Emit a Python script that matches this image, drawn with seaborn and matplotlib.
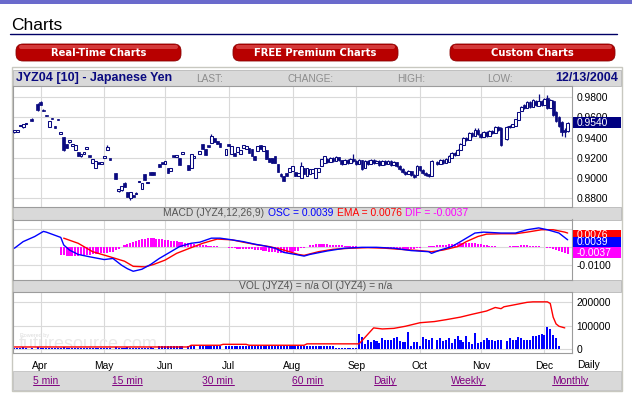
import numpy as np
import pandas as pd
import matplotlib
matplotlib.use("Agg")
import matplotlib.pyplot as plt
import seaborn as sns
from matplotlib.patches import Rectangle, FancyBboxPatch

# ---------------------------------------------------------------- data
sessions = pd.bdate_range("2004-03-19", "2004-12-13")          # trading-day axis
month_labels = ["Apr", "May", "Jun", "Jul", "Aug", "Sep", "Oct", "Nov", "Dec"]

# candle days (index into sessions)
c_day = ([0, 1, 2, 3, 4, 6] + list(range(8, 34)) + list(range(35, 49)) + list(range(50, 59))
         + [60, 61, 62, 64] + list(range(65, 72)) + list(range(73, 145))
         + list(range(146, 169)) + list(range(170, 192)))

c_open = [
    .946, .946, .951, .950, .953, .958, .973, .975, .967, .962,
    .950, .959, .951, .958, .944, .941, .934, .936, .932, .928,
    .926, .922, .924, .929, .922, .915, .910, .915, .914, .920,
    .928, .919,
    .905, .887, .888, .895, .886, .880, .883, .884, .896, .889, .904, .895, .906, .906,
    .914, .915, .914, .910, .907, .922, .921, .920, .924,
    .913, .910, .920, .924,
    .934, .929, .932, .935, .940, .937, .935,
    .923, .934, .924, .925, .926, .924, .930, .929, .930, .929,
    .922, .927, .933, .927, .928, .920, .920, .922, .914, .904,
    .902, .905, .906, .907, .906, .902, .900, .910, .902, .904,
    .905, .900, .906, .912, .915, .919, .916, .920, .917, .921,
    .918, .914, .918, .915, .919, .917, .914, .918, .910, .917,
    .914, .918, .915, .917, .913, .917, .914, .917, .913, .916,
    .912, .909, .906, .904, .907, .903, .903, .912, .908, .905,
    .904, .902,
    .916, .914, .918, .915, .916, .920, .925, .923, .928, .933,
    .940, .938, .945, .942, .948, .944, .941, .946, .942, .947,
    .945, .950, .949,
    .939, .950, .950, .951, .957, .966, .972, .969, .975, .970,
    .976, .971, .976, .972, .979, .969, .976, .965, .960, .955,
    .948, .947]
c_high = [
    .946, .947, .952, .953, .954, .959, .974, .976, .968, .962,
    .956, .959, .951, .958, .946, .941, .934, .938, .933, .933,
    .926, .923, .925, .930, .922, .919, .917, .915, .915, .921,
    .933, .919,
    .905, .889, .892, .896, .886, .886, .883, .886, .897, .895, .904, .896, .906, .906,
    .914, .915, .917, .910, .910, .922, .922, .920, .925,
    .913, .924, .921, .927,
    .934, .929, .932, .944, .940, .937, .935,
    .929, .934, .932, .925, .931, .928, .933, .932, .930, .929,
    .922, .932, .933, .932, .928, .920, .920, .922, .914, .905,
    .902, .905, .910, .912, .906, .905, .916, .910, .910, .909,
    .909, .910, .910, .919, .922, .920, .921, .921, .922, .921,
    .918, .919, .919, .920, .924, .918, .919, .918, .918, .918,
    .919, .919, .918, .918, .918, .918, .918, .918, .917, .916,
    .913, .910, .907, .908, .907, .904, .913, .912, .909, .906,
    .904, .918,
    .917, .919, .919, .920, .923, .926, .926, .929, .935, .941,
    .941, .946, .946, .949, .949, .945, .947, .947, .948, .948,
    .951, .951, .950,
    .951, .952, .953, .958, .965, .971, .973, .976, .976, .978,
    .977, .983, .977, .979, .982, .978, .977, .966, .961, .956,
    .949, .955]
c_low = [
    .945, .946, .951, .949, .953, .956, .966, .972, .966, .961,
    .950, .958, .949, .957, .944, .927, .930, .935, .932, .928,
    .922, .921, .924, .929, .921, .915, .910, .914, .914, .920,
    .928, .918,
    .899, .886, .887, .891, .881, .879, .881, .884, .896, .889, .898, .895, .903, .903,
    .911, .914, .914, .905, .907, .921, .921, .913, .924,
    .908, .910, .920, .924,
    .929, .923, .931, .935, .936, .934, .931,
    .923, .932, .924, .922, .926, .924, .930, .929, .925, .922,
    .918, .927, .929, .927, .919, .916, .915, .915, .906, .901,
    .897, .902, .906, .907, .902, .902, .900, .904, .902, .904,
    .905, .900, .906, .912, .915, .915, .916, .916, .917, .917,
    .913, .914, .914, .915, .916, .913, .914, .908, .910, .913,
    .914, .914, .915, .912, .913, .913, .914, .912, .913, .911,
    .908, .905, .903, .904, .902, .900, .903, .907, .904, .902,
    .901, .902,
    .913, .914, .914, .915, .916, .920, .922, .923, .928, .933,
    .937, .938, .941, .942, .943, .940, .941, .941, .942, .944,
    .945, .947, .932,
    .938, .949, .950, .951, .957, .966, .968, .969, .969, .970,
    .971, .971, .971, .972, .968, .969, .961, .955, .950, .942,
    .941, .946]
c_close = [
    .946, .946, .951, .953, .953, .956, .967, .972, .966, .961,
    .956, .958, .949, .957, .946, .928, .930, .936, .932, .933,
    .922, .922, .924, .929, .921, .919, .917, .914, .915, .920,
    .931, .918,
    .899, .889, .892, .891, .881, .886, .881, .885, .896, .895, .898, .895, .903, .903,
    .911, .914, .917, .905, .910, .921, .922, .913, .924,
    .908, .924, .920, .927,
    .929, .923, .931, .942, .936, .934, .931,
    .929, .932, .932, .922, .931, .928, .933, .932, .925, .922,
    .918, .932, .929, .932, .919, .916, .915, .915, .906, .902,
    .897, .902, .910, .912, .902, .905, .912, .904, .910, .909,
    .909, .910, .910, .919, .922, .916, .920, .917, .921, .918,
    .914, .918, .915, .919, .917, .914, .918, .909, .917, .914,
    .918, .915, .917, .913, .917, .914, .917, .913, .916, .912,
    .909, .906, .904, .907, .903, .901, .912, .908, .905, .903,
    .902, .917,
    .914, .918, .915, .919, .922, .925, .923, .928, .934, .940,
    .938, .945, .942, .948, .944, .941, .946, .942, .947, .945,
    .950, .948, .933,
    .950, .951, .953, .958, .965, .970, .969, .975, .970, .977,
    .972, .976, .972, .978, .969, .977, .962, .956, .951, .946,
    .946, .954]
volume = [
    6000, 5000, 4000, 7000, 5000, 6000, 8000, 6000, 5000, 4000,
    6000, 5000, 4000, 6000, 5000, 7000, 6000, 5000, 4000, 5000,
    6000, 5000, 4000, 5000, 6000, 5000, 4000, 6000, 5000, 5000,
    6000, 4000,
    7000, 6000, 5000, 6000, 7000, 6000, 5000, 4000, 6000, 5000, 6000, 5000, 7000, 6000,
    12000, 13000, 12000, 14000, 13000, 12000, 11000, 12000, 13000,
    14000, 15000, 14000, 13000,
    13000, 14000, 13000, 14000, 13000, 12000, 13000,
    12000, 13000, 12000, 11000, 12000, 13000, 12000, 11000, 12000, 13000,
    12000, 11000, 12000, 13000, 12000, 11000, 12000, 12000, 13000, 12000,
    11000, 12000, 13000, 12000, 11000, 12000, 13000, 12000, 11000, 12000,
    13000, 12000, 11000, 12000, 13000, 12000, 11000, 12000, 6000, 5000,
    6000, 5000, 6000, 5000, 6000, 5000, 64000, 52000, 20000, 38000,
    30000, 38000, 33000, 25000, 45000, 40000, 38000, 40000, 45000, 50000,
    35000, 30000, 30000, 72000, 12000, 28000, 30000, 12000, 50000, 42000,
    40000, 45000,
    40000, 45000, 35000, 40000, 45000, 25000, 42000, 55000, 40000, 30000,
    55000, 30000, 20000, 70000, 25000, 30000, 40000, 45000, 40000, 40000,
    35000, 40000, 40000,
    35000, 45000, 40000, 40000, 50000, 45000, 40000, 40000, 40000, 55000,
    55000, 60000, 65000, 60000, 95000, 85000, 60000, 45000, 12000, 0,
    0, 0]

# open interest line
oi_day = [0, 60, 61, 71, 72, 80, 81, 100, 101, 119, 124, 127, 131, 135, 140, 145, 149,
          154, 158, 163, 166, 168, 169, 172, 177, 179, 184, 185, 186, 187, 188, 190]
oi_val = [8700, 8700, 16000, 16000, 20000, 20000, 16000, 16000, 22000, 22000, 90000,
          85500, 88000, 97000, 112000, 117000, 125000, 136000, 148000, 162000, 177000,
          172000, 180000, 187000, 199000, 201000, 201000, 194000, 136000, 107000, 97000, 90000]

# MACD: oscillator line (blue), its EMA (red), difference histogram (magenta)
osc_day = [0, 3, 7, 10, 11, 16, 17, 19, 22, 26, 31, 34, 37, 39, 41, 44, 47, 50, 54, 57,
           61, 64, 68, 71, 75, 79, 83, 86, 90, 93, 97, 100, 102, 108, 114, 120, 125, 131,
           137, 143, 144, 147, 151, 154, 159, 162, 168, 173, 177, 181, 184, 188, 191]
osc_val = [-.0007, .0029, .0057, .0085, .0081, .0052, .0011, -.0017, -.0041, -.0054,
           -.0069, -.0063, -.0100, -.0119, -.0133, -.0122, -.0096, -.0063, -.0026, .0002,
           .0020, .0026, .0048, .0048, .0039, .0029, .0015, .0007, -.0007, -.0030,
           -.0041, -.0050, -.0041, -.0022, -.0007, -.0002, -.0002, -.0007, -.0020, -.0026,
           -.0035, -.0017, .0002, .0029, .0076, .0081, .0076, .0076, .0094, .0104,
           .0094, .0076, .0039]
ema_day = [17, 22, 27, 33, 38, 41, 45, 48, 52, 56, 61, 65, 70, 75, 79, 84, 88, 93, 98, 100,
           105, 110, 116, 122, 128, 133, 139, 144, 148, 153, 156, 160, 163, 168, 173, 177,
           182, 186, 190, 191]
ema_val = [.0048, .0020, -.0026, -.0054, -.0078, -.0106, -.0109, -.0096, -.0072, -.0035,
           -.0004, .0020, .0043, .0039, .0026, .0011, .0002, -.0017, -.0041, -.0046,
           -.0026, -.0013, -.0007, -.0004, -.0007, -.0013, -.0019, -.0026, -.0017, .0002,
           .0029, .0057, .0070, .0072, .0072, .0081, .0094, .0094, .0081, .0076]
dif_day = list(range(16, 192))
dif_val = [
    -.0044, -.0046, -.0047, -.0048, -.0048, -.0048,
    -.0047, -.0046, -.0045, -.0043, -.0042, -.0041,
    -.0039, -.0037, -.0035, -.0033, -.0031, -.0030,
    -.0025, -.0018, -.0010, -.0002, .0008,
    .0014, .0020, .0026, .0031, .0037, .0042,
    .0046, .0048, .0048, .0047, .0045, .0044,
    .0042, .0040, .0038, .0035, .0032, .0030,
    .0028, .0025, .0022, .0020, .0017, .0014,
    .0012, .0011, .0009, .0008, .0007, .0006,
    .0005, .0004, .0002, .0001, -.0002, -.0004,
    -.0006, -.0008, -.0009, -.0010, -.0011, -.0012,
    -.0013, -.0014, -.0015, -.0017, -.0019, -.0021,
    -.0023, -.0025, -.0027, -.0029, -.0031, -.0033,
    -.0035, -.0033, -.0030, -.0027, -.0024, -.0021,
    -.0008, -.0004, .0002, .0008, .0012, .0015,
    .0016, .0016, .0015, .0014, .0012, .0011,
    .0010, .0009, .0008, .0006, .0005, .0004,
    .0003, .0003, .0002, .0002, .0001, .0000,
    -.0001, -.0002, -.0002, -.0003, -.0004, -.0005,
    -.0006, -.0007, -.0008, -.0009, -.0010, -.0011,
    -.0011, -.0012, -.0012, -.0011, -.0008, -.0004,
    .0000, .0002, .0004, .0006, .0007, .0008,
    .0009, .0011, .0013, .0015, .0016, .0017,
    .0018, .0019, .0020, .0021, .0021, .0020,
    .0019, .0017, .0015, .0012, .0009, .0006,
    .0004, .0003, .0002, .0001, .0000, .0001,
    .0003, .0005, .0006, .0007, .0008, .0008,
    .0008, .0007, .0006, .0005, .0003, .0000,
    -.0003, -.0006, -.0008, -.0010, -.0015, -.0022,
    -.0029, -.0034, -.0037]

price_ticks = [0.88, 0.90, 0.92, 0.94, 0.96, 0.98]
vol_ticks = [0, 100000, 200000]
last_price = "0.9540"
macd_boxes = [("0.0076", "#ff0000"), ("0.0039", "#0000ff"), ("-0.0037", "#ff00ff")]

# ---------------------------------------------------------------- style
sns.set_style("white")
plt.rcParams["font.family"] = ["Liberation Sans", "DejaVu Sans"]

W, H = 632, 393
NAVY = "#0a0a80"
GRID = "#d9d9d9"
FRAME = "#9c9c9c"
HDR = "#d9d9d9"

fig = plt.figure(figsize=(W / 100, H / 100), dpi=100)
fig.patch.set_facecolor("white")


def fbox(x0, y0, x1, y1):
    return [x0 / W, 1 - y1 / H, (x1 - x0) / W, (y1 - y0) / H]


def overlay(z):
    a = fig.add_axes([0, 0, 1, 1], zorder=z)
    a.set_xlim(0, W)
    a.set_ylim(H, 0)
    a.axis("off")
    return a


bg = overlay(0)
fg = overlay(20)


def rect(a, x0, y0, x1, y1, fc, ec="none", lw=0.0):
    a.add_patch(Rectangle((x0, y0), x1 - x0, y1 - y0, facecolor=fc, edgecolor=ec, linewidth=lw))


# page header
rect(bg, 0, 0, W, 3.5, "#6a6acc")
bg.text(11, 29.5, "Charts", fontsize=12.5, color="black", va="baseline", ha="left")
bg.plot([10, 617], [33.5, 33.5], color="#000066", lw=1.0)
for (x0, x1, label) in [(16, 181, "Real-Time Charts"), (233, 398, "FREE Premium Charts"),
                        (450, 615, "Custom Charts")]:
    bg.add_patch(FancyBboxPatch((x0, 44), x1 - x0, 17, boxstyle="round,pad=0,rounding_size=7",
                                facecolor="#b80000", edgecolor="#8a0000", linewidth=0.6))
    bg.add_patch(FancyBboxPatch((x0 + 3, 45), x1 - x0 - 6, 4, boxstyle="round,pad=0,rounding_size=2",
                                facecolor="#d43a3a", edgecolor="none"))
    bg.text((x0 + x1) / 2, 52.8, label, color="white", fontsize=7.2, fontweight="bold",
            family="DejaVu Sans", ha="center", va="center")

# chart panel frame and header bars
rect(bg, 12, 67, 621.5, 390.5, "white", ec="#c8c8c0", lw=1.0)
rect(bg, 13, 69.5, 621, 86, HDR, ec="#b8b8b8", lw=0.6)
bg.text(16, 78, "JYZ04 [10] - Japanese Yen", fontsize=9, fontweight="bold", color=NAVY,
        ha="left", va="center")
for x, s in [(196, "LAST:"), (288, "CHANGE:"), (397, "HIGH:"), (487, "LOW:")]:
    bg.text(x, 78.5, s, fontsize=7.3, color="#8c8c8c", ha="left", va="center")
bg.text(618, 78, "12/13/2004", fontsize=9, fontweight="bold", color=NAVY, ha="right", va="center")

rect(bg, 13, 206.5, 621, 219.5, HDR, ec="#b8b8b8", lw=0.6)
rect(bg, 13, 279.5, 621, 292, HDR, ec="#b8b8b8", lw=0.6)
rect(bg, 13, 371, 621, 389.5, HDR, ec="#c0c0c0", lw=0.6)

renderer = fig.canvas.get_renderer()


def seq_text(a, pieces, cx, cy, size):
    arts = []
    for s, col in pieces:
        t = a.text(0, cy, s, fontsize=size, color=col, ha="left", va="center")
        arts.append(t)
    widths = [t.get_window_extent(renderer).width for t in arts]
    gap = 3.5
    total = sum(widths) + gap * (len(arts) - 1)
    x = cx - total / 2
    for t, w in zip(arts, widths):
        t.set_x(x)
        x += w + gap


seq_text(bg, [("MACD (JYZ4,12,26,9)", "#555555"), ("OSC = 0.0039", "#0000ff"),
              ("EMA = 0.0076", "#ff0000"), ("DIF = -0.0037", "#ff00ff")], 316, 213.3, 7.4)
seq_text(bg, [("VOL (JYZ4) = n/a OI (JYZ4) = n/a", "#555555")], 316, 286, 7.4)

# ---------------------------------------------------------------- chart axes
days = np.array(c_day)
o = np.array(c_open)
hgh = np.array(c_high)
lw_ = np.array(c_low)
c = np.array(c_close)
XL = (-0.5, 192.5)
month_pos = [int(np.flatnonzero(sessions.month == m)[0]) for m in range(4, 13)]

ax_p = fig.add_axes(fbox(13, 86, 572, 206.5), zorder=5)
ax_m = fig.add_axes(fbox(13, 219.5, 572, 279.5), zorder=5)
ax_v = fig.add_axes(fbox(13, 292, 572, 353), zorder=5)

for a in (ax_p, ax_m, ax_v):
    a.set_facecolor("white")
    a.set_xlim(*XL)
    a.set_xticks(month_pos)
    a.yaxis.tick_right()
    a.tick_params(axis="both", length=0, labelsize=7.4, colors="black")
    a.tick_params(axis="y", pad=3.2)
    a.grid(True, color=GRID, lw=0.8)
    a.set_axisbelow(True)
    for sp in a.spines.values():
        sp.set_color(FRAME)
        sp.set_linewidth(0.8)
ax_p.set_xticklabels([])
ax_m.set_xticklabels([])

# price candles
up = c >= o
body_lo = np.minimum(o, c)
body_h = np.maximum(np.abs(c - o), 0.0015)
ax_p.vlines(days, lw_, hgh, color=NAVY, lw=0.9, zorder=2)
ax_p.bar(days[up], body_h[up], bottom=body_lo[up], width=0.95, facecolor="white",
         edgecolor=NAVY, linewidth=0.75, zorder=3)
ax_p.bar(days[~up], body_h[~up], bottom=body_lo[~up], width=0.95, facecolor=NAVY,
         edgecolor=NAVY, linewidth=0.5, zorder=3)
ax_p.set_ylim(0.8721, 0.9909)
ax_p.set_yticks(price_ticks)
ax_p.set_yticklabels([f"{v:.4f}" for v in price_ticks])

# MACD
ax_m.bar(dif_day, dif_val, width=0.72, color="#ff00ff", linewidth=0, antialiased=False,
         zorder=2)
sns.lineplot(x=ema_day, y=ema_val, ax=ax_m, color="#ff0000", lw=1.0, estimator=None,
             legend=False, zorder=3)
sns.lineplot(x=osc_day, y=osc_val, ax=ax_m, color="#0000ff", lw=1.0, estimator=None,
             legend=False, zorder=4)
ax_m.set_ylim(-0.0178, 0.0150)
ax_m.set_yticks([-0.01, 0.0, 0.01])
ax_m.set_yticklabels(["-0.0100", "", ""])
ax_m.set_xlim(*XL)
ax_m.set_xlabel("")
ax_m.set_ylabel("")

# Volume + open interest
ax_v.text(0.013, 0.25, "Powered by", transform=ax_v.transAxes, fontsize=4, color="#dcdcdc",
          ha="left", va="bottom", zorder=1)
ax_v.text(0.010, 0.06, "futuresource.com", transform=ax_v.transAxes, fontsize=13,
          color="#e8e8e8", ha="left", va="baseline", zorder=1)
ax_v.bar(days, volume, width=0.7, color="#0000ff", linewidth=0, antialiased=False, zorder=2)
sns.lineplot(x=oi_day, y=oi_val, ax=ax_v, color="#ff0000", lw=1.0, estimator=None,
             legend=False, zorder=3)
ax_v.set_ylim(-17000, 243000)
ax_v.set_yticks(vol_ticks)
ax_v.set_yticklabels([str(v) for v in vol_ticks])
ax_v.set_xlim(*XL)
ax_v.set_xticklabels(month_labels)
ax_v.tick_params(axis="x", pad=5.5)
ax_v.set_xlabel("")
ax_v.set_ylabel("")

# right-hand value boxes
rect(fg, 573, 117.3, 621, 128.3, "#000080")
fg.text(576.5, 122.9, last_price, color="white", fontsize=7.4, ha="left", va="center")
rect(fg, 573, 229.5, 621, 241, macd_boxes[0][1])
fg.text(576.5, 234.5, macd_boxes[0][0], color="white", fontsize=7.4, ha="left", va="center")
rect(fg, 573, 236.5, 621, 247, macd_boxes[1][1])
fg.text(576.5, 241.8, macd_boxes[1][0], color="white", fontsize=7.4, ha="left", va="center")
rect(fg, 573, 247, 621, 258, macd_boxes[2][1])
fg.text(576.5, 252.6, macd_boxes[2][0], color="white", fontsize=7.4, ha="left", va="center")

# period label and links
bg.text(589, 364.5, "Daily", fontsize=7.4, ha="center", va="center", color="black")
for cx, s in [(46, "5 min"), (127, "15 min"), (218, "30 min"), (307, "60 min"),
              (385, "Daily"), (468, "Weekly"), (570, "Monthly")]:
    t = bg.text(cx, 383.5, s, fontsize=7.4, color="#800080", ha="center", va="baseline")
    w = t.get_window_extent(renderer).width
    bg.plot([cx - w / 2, cx + w / 2], [385.3, 385.3], color="#800080", lw=0.7)

fig.savefig("out.png", dpi=100)
